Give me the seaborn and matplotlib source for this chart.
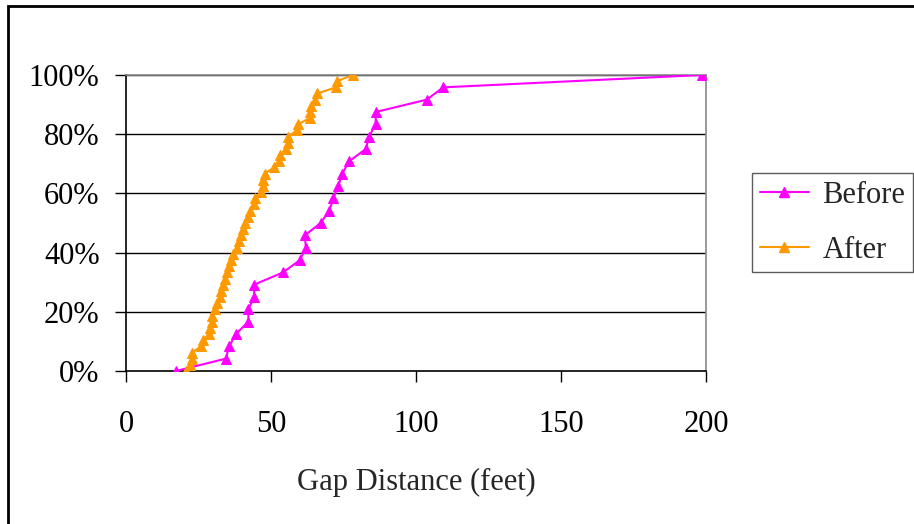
import numpy as np
import pandas as pd
import matplotlib
matplotlib.use("Agg")
import matplotlib.pyplot as plt
import seaborn as sns
from matplotlib.patches import Rectangle

sns.set_theme(style="white")
plt.rcParams['font.family'] = ['Liberation Serif', 'DejaVu Serif']

# ---- data ----
before_x = [17.2, 34.4, 35.6, 37.9, 42.2, 42.2, 44.2, 44.2, 54.2, 60.0, 62.0, 61.7, 67.1,
            70.1, 71.5, 73.2, 74.6, 76.9, 82.7, 83.8, 86.1, 86.1, 103.7, 109.4, 198.5]
before_y = [0, 4.17, 8.33, 12.5, 16.67, 20.83, 25.0, 29.17, 33.33, 37.5, 41.67, 45.83, 50.0,
            54.17, 58.33, 62.5, 66.67, 70.83, 75.0, 79.17, 83.33, 87.5, 91.67, 95.83, 100.0]

after_x = [20.7, 22.0, 22.6, 22.8, 25.9, 26.6, 28.6, 29.0, 29.5, 29.8, 30.7, 31.4, 32.4,
           32.9, 33.4, 34.3, 34.8, 35.5, 36.2, 36.9, 38.3, 38.8, 39.5, 40.5, 41.2, 42.1,
           42.8, 44.0, 44.5, 46.6, 47.1, 47.4, 47.8, 51.0, 52.8, 53.1, 55.0, 55.7, 56.0,
           58.8, 59.3, 63.3, 63.4, 63.8, 65.3, 65.9, 72.4, 72.8, 78.2]
after_y = [0, 2.08, 4.17, 6.25, 8.33, 10.42, 12.5, 14.58, 16.67, 18.75, 20.83, 22.92, 25.0,
           27.08, 29.17, 31.25, 33.33, 35.42, 37.5, 39.58, 41.67, 43.75, 45.83, 47.92, 50.0,
           52.08, 54.17, 56.25, 58.33, 60.42, 62.5, 64.58, 66.67, 68.75, 70.83, 72.92, 75.0,
           77.08, 79.17, 81.25, 83.33, 85.42, 87.5, 89.58, 91.67, 93.75, 95.83, 97.92, 100.0]

series_names = ["Before", "After"]
colors = {"Before": "#FF00FF", "After": "#FF9900"}
x_ticks = [0, 50, 100, 150, 200]
y_ticks = [0, 20, 40, 60, 80, 100]
y_tick_labels = ["0%", "20%", "40%", "60%", "80%", "100%"]

df = pd.concat([
    pd.DataFrame({"x": before_x, "y": before_y, "series": "Before"}),
    pd.DataFrame({"x": after_x, "y": after_y, "series": "After"}),
], ignore_index=True)

FS = 22

fig = plt.figure(figsize=(9.14, 5.24), dpi=100)
ax = fig.add_axes([126/914, 1-371/524, (706-126)/914, (371-75)/524])

for s in series_names:
    sub = df[df.series == s]
    sns.lineplot(data=sub, x="x", y="y", ax=ax, color=colors[s], marker="^",
                 markersize=7.5, markeredgecolor=colors[s], linewidth=1.5,
                 label=s, sort=False, estimator=None, legend=False, zorder=3)

ax.set_xlim(0, 200)
ax.set_ylim(0, 100)
ax.set_xticks(x_ticks)
ax.set_xticklabels([str(t) for t in x_ticks], fontsize=FS)
ax.set_yticks(y_ticks)
ax.set_yticklabels(y_tick_labels, fontsize=FS)
ax.set_xlabel("Gap Distance (feet)", fontsize=FS, labelpad=21)
ax.set_ylabel("")

for yv in y_ticks[1:]:
    ax.axhline(yv, color="black", linewidth=1, zorder=1)

for side in ["top", "right"]:
    ax.spines[side].set_color("#888888")
    ax.spines[side].set_linewidth(1.2)
for side in ["left", "bottom"]:
    ax.spines[side].set_color("black")
    ax.spines[side].set_linewidth(1.2)
ax.tick_params(axis="both", direction="out", length=8, width=1, color="black",
               left=True, bottom=True, labelcolor="black")
ax.tick_params(axis="x", pad=20)
ax.tick_params(axis="y", pad=11)

handles = [plt.Line2D([], [], color=colors[s], marker="^", markersize=7.5, linewidth=1.5)
           for s in series_names]
leg = fig.legend(handles, series_names, loc="upper left",
                 bbox_to_anchor=(752/914, 1-173/524), fontsize=FS, frameon=True,
                 fancybox=False, borderpad=0.25, handlelength=1.6, labelspacing=0.85,
                 handletextpad=0.45, borderaxespad=0)
leg.get_frame().set_edgecolor("#333333")
leg.get_frame().set_linewidth(1)

fig.patches.append(Rectangle((8/914, -0.1), 1.2, 1 - 6/524 + 0.1,
                             transform=fig.transFigure, fill=False,
                             edgecolor="black", linewidth=2))

fig.savefig("out.png", dpi=100, facecolor="white")
